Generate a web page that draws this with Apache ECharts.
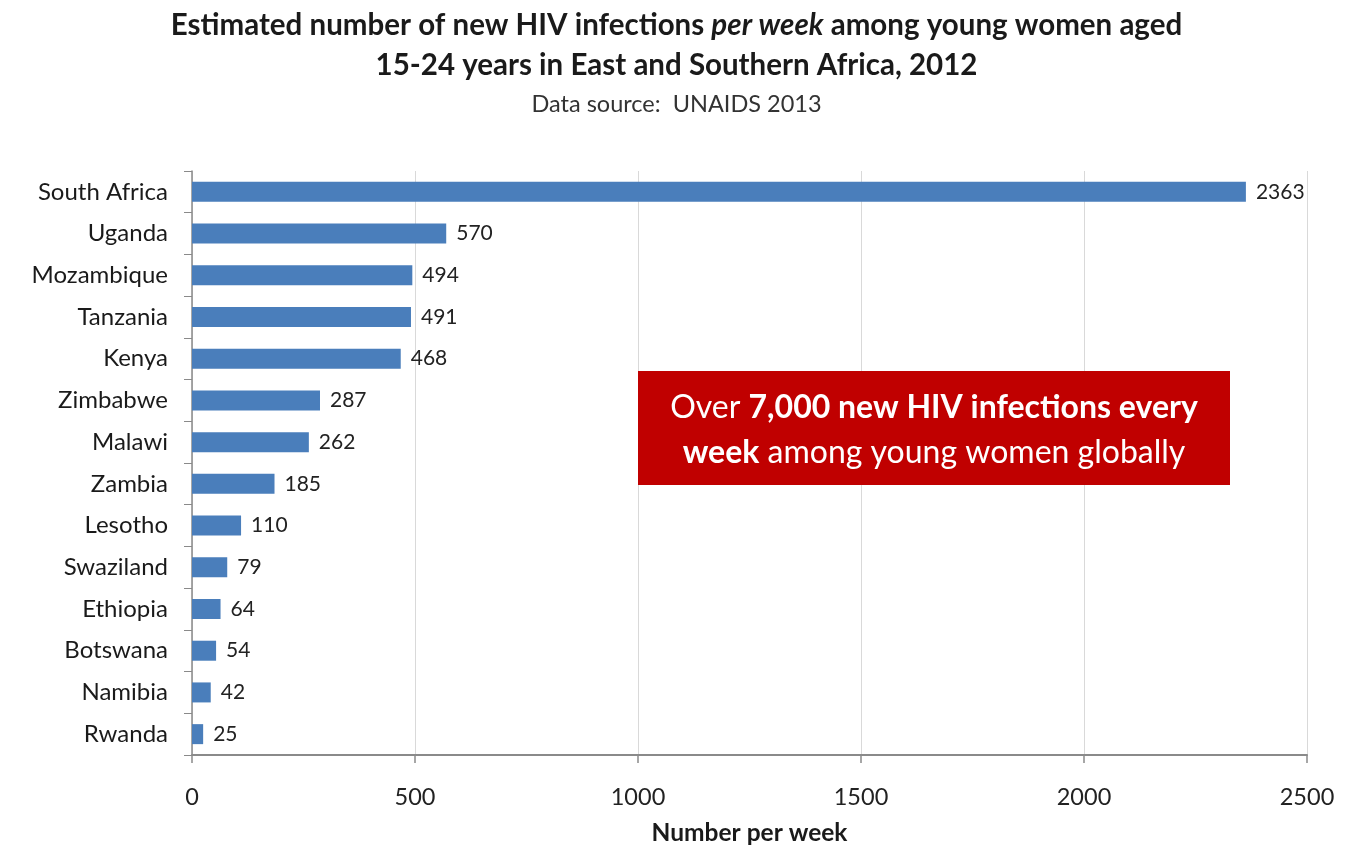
<!DOCTYPE html>
<html><head><meta charset="utf-8">
<script src="https://cdn.jsdelivr.net/npm/echarts@6/dist/echarts.min.js"></script>
<style>html,body{margin:0;padding:0;background:#fff}#c{width:1353px;height:851px}</style>
</head><body><div id="c"></div>
<script>
const countries = ["South Africa","Uganda","Mozambique","Tanzania","Kenya","Zimbabwe","Malawi","Zambia","Lesotho","Swaziland","Ethiopia","Botswana","Namibia","Rwanda"];
const infections = [2363,570,494,491,468,287,262,185,110,79,64,54,42,25];
const xTicks = [0,500,1000,1500,2000,2500];
const titleLine1 = "Estimated number of new HIV infections {i|per week} among young women aged";
const titleLine2 = "15-24 years in East and Southern Africa, 2012";
const subtitle = "Data source:  UNAIDS 2013";

const FONT = "Lato";
const chart = echarts.init(document.getElementById('c'));
chart.setOption({
  animation:false,
  backgroundColor:'#fff',
  title:[{
    text: titleLine1 + "\n" + titleLine2,
    left:'center', top:0,
    textStyle:{fontFamily:FONT,fontSize:29.5,fontWeight:'bold',color:'#1a1a1a',lineHeight:40,
      rich:{i:{fontFamily:FONT,fontSize:29.5,fontWeight:'bold',fontStyle:'italic',color:'#1a1a1a'}}}
  },{
    text: subtitle, left:'center', top:87,
    textStyle:{fontFamily:FONT,fontSize:23.5,fontWeight:'normal',color:'#333'}
  }],
  grid:{left:192,right:46,top:171,bottom:88,containLabel:false},
  xAxis:{
    type:'value',min:0,max:2500,interval:500,
    name:'Number per week',nameLocation:'middle',nameGap:66,
    nameTextStyle:{fontFamily:FONT,fontSize:24.5,fontWeight:'bold',color:'#1a1a1a'},
    axisLine:{show:true,lineStyle:{color:'#8a8a8a',width:2}},
    axisTick:{show:true,length:8,lineStyle:{color:'#8a8a8a',width:1.5}},
    axisLabel:{fontFamily:FONT,fontSize:23.5,color:'#222',margin:30,
      formatter:v=>xTicks.includes(v)?String(v):''},
    splitLine:{show:true,lineStyle:{color:'#d9d9d9',width:1}}
  },
  yAxis:{
    type:'category',data:countries,inverse:true,
    axisLine:{show:true,lineStyle:{color:'#8a8a8a',width:1.5}},
    axisTick:{show:true,length:8,lineStyle:{color:'#8a8a8a'}},
    axisLabel:{fontFamily:FONT,fontSize:24,color:'#1a1a1a',margin:24}
  },
  series:[{
    type:'bar',data:infections,barWidth:20,
    itemStyle:{color:'#4a7ebb'},
    label:{show:true,position:'right',distance:10,fontFamily:FONT,fontSize:21,color:'#222'}
  }],
  graphic:[{
    type:'group',left:638,top:371,z:100,
    children:[
      {type:'rect',z:100,shape:{x:0,y:0,width:592,height:114},style:{fill:'#c00000'}},
      {type:'text',z:101,x:296,y:59,style:{
        text:'Over {b|7,000 new HIV infections every}\n{b|week} among young women globally',
        fontFamily:FONT,fontSize:32,fill:'#fff',align:'center',verticalAlign:'middle',lineHeight:45,
        rich:{b:{fontFamily:FONT,fontSize:32,fontWeight:'bold',fill:'#fff',color:'#fff'}}
      }}
    ]
  }]
});
</script></body></html>
